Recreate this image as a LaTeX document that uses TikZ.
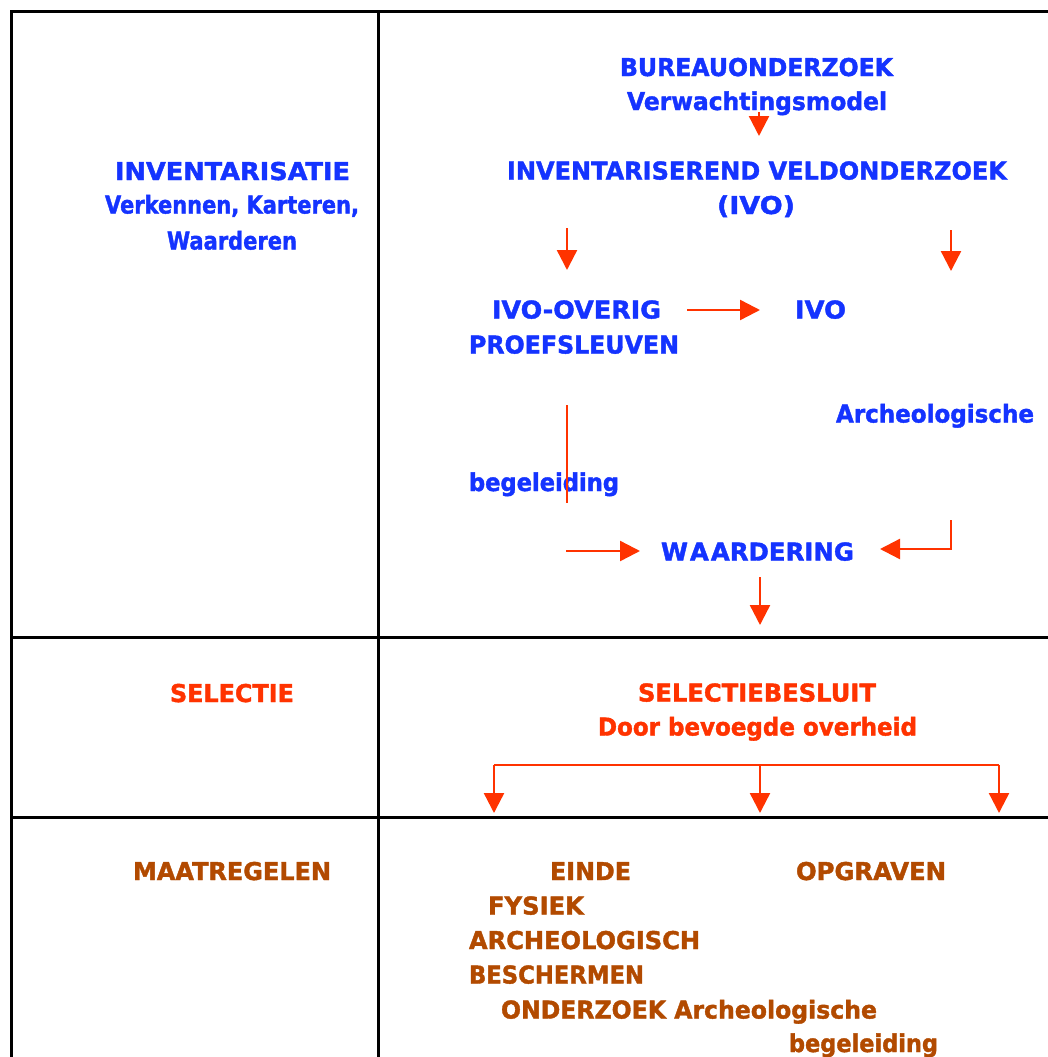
\documentclass[tikz,border=0pt]{standalone}
\usepackage{fontspec}
\setmainfont{DejaVu Sans}[BoldFeatures={FakeBold=1.6}]
\usepackage{graphicx}
\usetikzlibrary{arrows.meta}
\definecolor{tblue}{HTML}{1433FF}
\definecolor{tred}{HTML}{FF3300}
\definecolor{tbrown}{HTML}{B24A00}
\newcommand{\fitw}[2]{\resizebox{#1pt}{\height}{#2}}
\begin{document}
\begin{tikzpicture}[x=1pt,y=-1pt,
  lbl/.style={anchor=base west,inner sep=0pt,outer sep=0pt,font=\fontsize{24.5}{28}\selectfont\bfseries},
  bl/.style={lbl,text=tblue},
  rd/.style={lbl,text=tred},
  br/.style={lbl,text=tbrown},
  grid/.style={line width=3pt,black},
  conn/.style={line width=2.4pt,tred},
  arr/.style={conn,-{Triangle[width=20pt,length=20pt]}}]
\useasboundingbox (0,0) rectangle (1048,1057);
\clip (0,0) rectangle (1048,1057);
% table
\coordinate (tl) at (11,12);
\coordinate (tr) at (1060,12);
\coordinate (lb) at (11,1070);
\coordinate (ct) at (378,12);
\coordinate (cb) at (378,1070);
\coordinate (r1l) at (11,637);
\coordinate (r1r) at (1060,637);
\coordinate (r2l) at (11,817);
\coordinate (r2r) at (1060,817);
\draw[grid] (lb) -- (tl) -- (tr);
\draw[grid] (ct) -- (cb);
\draw[grid] (r1l) -- (r1r);
\draw[grid] (r2l) -- (r2r);
% left column
\node[bl] (inv) at (115,180) {\fitw{235}{INVENTARISATIE}};
\node[bl] (verk) at (105,213.5) {\fitw{254}{Verkennen, Karteren,}};
\node[bl] (waard) at (167,249.5) {\fitw{130}{Waarderen}};
\node[rd] (sel) at (170,702) {\fitw{124}{SELECTIE}};
\node[br] (maat) at (133,880) {\fitw{198}{MAATREGELEN}};
% right column, row 1
\node[bl] (bur) at (620,76) {\fitw{273}{BUREAUONDERZOEK}};
\node[bl] (verw) at (627,110) {\fitw{260}{Verwachtingsmodel}};
\node[bl] (ivv) at (507,179.5) {\fitw{500}{INVENTARISEREND VELDONDERZOEK}};
\node[bl] (ivop) at (717,214) {\fitw{78}{(IVO)}};
\node[bl] (ivoo) at (492,318.5) {\fitw{169}{IVO-OVERIG}};
\node[bl] (ivo) at (795,318.5) {\fitw{51}{IVO}};
\node[bl] (proef) at (469,353.5) {\fitw{210}{PROEFSLEUVEN}};
\node[bl] (arch) at (836,422.5) {\fitw{198}{Archeologische}};
\node[bl] (beg) at (469,491) {\fitw{150}{begeleiding}};
\node[bl] (wrd) at (661,560.5) {\fitw{193}{W\kern2pt A\kern2pt ARDERING}};
% row 2
\node[rd] (sbes) at (638,701.5) {\fitw{238}{SELECTIEBESLUIT}};
\node[rd] (door) at (598,735.5) {\fitw{319}{Door bevoegde overheid}};
% row 3
\node[br] (einde) at (550,880) {\fitw{81}{EINDE}};
\node[br] (opgr) at (796,880) {\fitw{150}{OPGRAVEN}};
\node[br] (fys) at (488,914.5) {\fitw{96}{FYSIEK}};
\node[br] (arcg) at (469,949) {\fitw{231}{ARCHEOLOGISCH}};
\node[br] (besch) at (469,983.5) {\fitw{175}{BESCHERMEN}};
\node[br] (ond) at (501,1018.5) {\fitw{376}{ONDERZOEK Archeologische}};
\node[br] (begb) at (789,1052) {\fitw{149}{begeleiding}};
% connectors
\coordinate (a1s) at (759,112);   \coordinate (a1e) at (759,136);
\coordinate (a2s) at (567,228);   \coordinate (a2e) at (567,270);
\coordinate (a3s) at (951,230);   \coordinate (a3e) at (951,271);
\coordinate (a4s) at (687,310);   \coordinate (a4e) at (760,310);
\coordinate (l5s) at (567,405);   \coordinate (l5e) at (567,503);
\coordinate (a6s) at (566,551);   \coordinate (a6e) at (640,551);
\coordinate (a7s) at (951,520);   \coordinate (a7c) at (951,549);   \coordinate (a7e) at (880,549);
\coordinate (a8s) at (760,577);   \coordinate (a8e) at (760,625);
\coordinate (bl0) at (494,765);   \coordinate (bm0) at (760,765);   \coordinate (br0) at (999,765);
\coordinate (bl1) at (494,813);   \coordinate (bm1) at (760,813);   \coordinate (br1) at (999,813);
\draw[arr] (a1s) -- (a1e);
\draw[arr] (a2s) -- (a2e);
\draw[arr] (a3s) -- (a3e);
\draw[arr] (a4s) -- (a4e);
\draw[conn,line width=2pt] (l5s) -- (l5e);
\draw[arr] (a6s) -- (a6e);
\draw[arr] (a7s) -- (a7c) -- (a7e);
\draw[arr] (a8s) -- (a8e);
\draw[conn] (bl0) -- (br0);
\draw[arr] (bl0) -- (bl1);
\draw[arr] (bm0) -- (bm1);
\draw[arr] (br0) -- (br1);
\end{tikzpicture}
\end{document}
